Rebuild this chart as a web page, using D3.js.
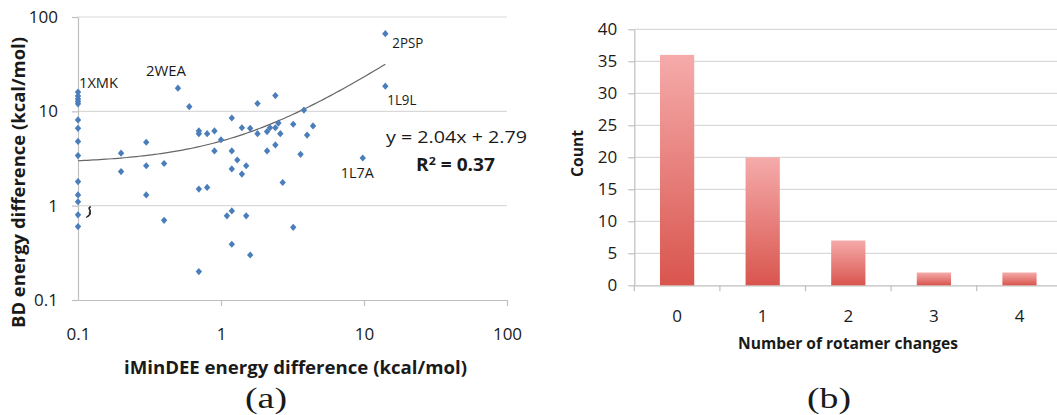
<!DOCTYPE html>
<html>
<head>
<meta charset="utf-8">
<script src="https://cdn.jsdelivr.net/npm/d3@7"></script>
<style>
  body { margin: 0; background: #fff; }
  svg { display: block; font-family: "Open Sans", sans-serif; }
</style>
</head>
<body>
<div id="chart"></div>
<script>
// (a) scatter: iMinDEE vs BD energy difference
const iMinDEE = [0.1, 0.1, 0.1, 0.1, 0.1, 0.1, 0.1, 0.1, 0.1, 0.1, 0.1, 0.1, 0.1, 0.1,
    0.2, 0.2, 0.3, 0.3, 0.3, 0.4, 0.4, 0.5, 0.6, 0.7, 0.7, 0.7, 0.7, 0.8, 0.8, 0.9, 0.9,
    1.0, 1.1, 1.19, 1.19, 1.19, 1.19, 1.19, 1.3, 1.4, 1.4, 1.5, 1.5, 1.6, 1.6, 1.8, 1.8,
    2.1, 2.1, 2.2, 2.4, 2.4, 2.4, 2.52, 2.6, 2.7, 3.2, 3.2, 3.6, 3.8, 4.0, 4.4, 9.8, 14.1, 14.1];
const bdEnergy = [16, 14.5, 13.5, 12.7, 12, 8.1, 6.6, 4.8, 3.4, 1.8, 1.3, 1.1, 0.8, 0.6,
    3.6, 2.3, 4.7, 2.65, 1.3, 2.8, 0.7, 17.6, 11.2, 6.2, 5.8, 1.5, 0.2, 5.8, 1.56, 6.2, 3.8,
    5.0, 0.78, 8.5, 3.8, 2.45, 0.88, 0.39, 3.05, 6.7, 2.16, 2.65, 0.78, 6.6, 0.3, 12.1, 5.8,
    6.1, 3.8, 6.7, 14.7, 6.7, 4.4, 7.5, 5.8, 1.76, 7.3, 0.59, 3.5, 10.3, 5.6, 7.0, 3.2, 66.6, 18.5];
const logTicks = [0.1, 1, 10, 100];
const proteinLabels = [
    {name: "1XMK", x: 0.1, y: 16},
    {name: "2WEA", x: 0.5, y: 17.6},
    {name: "2PSP", x: 14.1, y: 66.6},
    {name: "1L9L", x: 14.1, y: 18.5},
    {name: "1L7A", x: 9.8, y: 3.2}
];
const trendSlope = 2.04, trendIntercept = 2.79, trendR2 = 0.37;
const trendRange = [0.1, 14.1];

// (b) histogram of rotamer changes
const rotamerChanges = ["0", "1", "2", "3", "4"];
const rotamerCounts = [36, 20, 7, 2, 2];
const countTicks = [0, 5, 10, 15, 20, 25, 30, 35, 40];

const W = 1057, H = 415;
const gridColor = "#d9d9d9", axisColor = "#bfbfbf", textColor = "#1a1a1a";

const svg = d3.select("#chart").append("svg")
    .attr("width", W).attr("height", H);

const defs = svg.append("defs");
const grad = defs.append("linearGradient")
    .attr("id", "barGrad")
    .attr("x1", 0).attr("y1", 0).attr("x2", 0).attr("y2", 1);
grad.append("stop").attr("offset", "0%").attr("stop-color", "#f5abaa");
grad.append("stop").attr("offset", "100%").attr("stop-color", "#d9554e");

// text helper, stretched to the width measured in the figure
function label(g, txt, x, y, size, opts = {}) {
    const t = g.append("text")
        .attr("x", x).attr("y", y)
        .attr("font-size", size)
        .attr("fill", opts.fill || textColor)
        .attr("text-anchor", opts.anchor || "start")
        .text(txt);
    if (opts.bold) t.attr("font-weight", "bold");
    if (opts.family) t.attr("font-family", opts.family);
    if (opts.len) t.attr("textLength", opts.len).attr("lengthAdjust", "spacingAndGlyphs");
    if (opts.transform) t.attr("transform", opts.transform);
    return t;
}

// ---------- (a) ----------
const xA = d3.scaleLog().domain([0.1, 100]).range([78, 507]);
const yA = d3.scaleLog().domain([0.1, 100]).range([300, 17]);
const gA = svg.append("g");

// horizontal gridlines
gA.selectAll(".hgrid").data(logTicks.slice(1)).enter()
    .append("line")
    .attr("x1", xA(0.1)).attr("x2", xA(100))
    .attr("y1", d => yA(d)).attr("y2", d => yA(d))
    .attr("stroke", gridColor).attr("stroke-width", 1.2);

const yAxisA = gA.append("g")
    .attr("transform", `translate(${xA(0.1)},0)`)
    .call(d3.axisLeft(yA).tickValues(logTicks).tickFormat(d => d3.format("~g")(d))
        .tickSizeInner(6).tickSizeOuter(0).tickPadding(14));
const xAxisA = gA.append("g")
    .attr("transform", `translate(0,${yA(0.1)})`)
    .call(d3.axisBottom(xA).tickValues(logTicks).tickFormat(d => d3.format("~g")(d))
        .tickSizeInner(6).tickSizeOuter(0).tickPadding(22));
[yAxisA, xAxisA].forEach(ax => {
    ax.select(".domain").attr("stroke", axisColor).attr("stroke-width", 1.2);
    ax.selectAll(".tick line").attr("stroke", axisColor).attr("stroke-width", 1.2);
    ax.selectAll(".tick text").attr("font-size", 17).attr("fill", textColor)
        .attr("font-family", "Open Sans");
});
xAxisA.selectAll(".tick").filter(d => d === 0.1).select("line").remove();

// trend line y = a*x + b on log axes
const trendXs = d3.range(0, 101).map(i => trendRange[0] * Math.pow(trendRange[1] / trendRange[0], i / 100));
gA.append("path")
    .datum(trendXs)
    .attr("fill", "none")
    .attr("stroke", "#666")
    .attr("stroke-width", 1.2)
    .attr("d", d3.line().x(d => xA(d)).y(d => yA(trendSlope * d + trendIntercept)));

// points
const pts = iMinDEE.map((x, i) => ({x: x, y: bdEnergy[i]}));
gA.selectAll(".pt").data(pts).enter()
    .append("path")
    .attr("class", "pt")
    .attr("transform", d => `translate(${xA(d.x)},${yA(d.y)})`)
    .attr("d", "M0,-3.6L3.2,0L0,3.6L-3.2,0Z")
    .attr("fill", "#4a7ebb");

// squiggle marker near x=0.1, y=1
const sx = xA(0.1), sy = yA(1);
gA.append("path")
    .attr("d", `M${sx + 13},${sy + 1} C${sx + 8},${sy + 2} ${sx + 15},${sy + 6} ${sx + 11},${sy + 7} C${sx + 15},${sy + 8} ${sx + 8},${sy + 11} ${sx + 9},${sy + 12}`)
    .attr("fill", "none").attr("stroke", "#222").attr("stroke-width", 1.6);

// protein labels
const labelOffsets = {
    "1XMK": [1, -4, 39], "2WEA": [-32, -12, 40], "2PSP": [7, 14, 31],
    "1L9L": [2, 19, 29], "1L7A": [-22, 20, 33]
};
proteinLabels.forEach(p => {
    const o = labelOffsets[p.name];
    label(gA, p.name, xA(p.x) + o[0], yA(p.y) + o[1], 14, {len: o[2]});
});

// regression text
label(gA, `y = ${trendSlope}x + ${trendIntercept}`, 386, 143, 17, {len: 141});
const r2 = label(gA, "", 416, 171, 17, {bold: true, len: 79});
r2.text(null);
r2.append("tspan").text("R");
r2.append("tspan").attr("font-size", 11).attr("dy", -6).text("2");
r2.append("tspan").attr("dy", 6).text(` = ${trendR2}`);

// axis titles
label(gA, "iMinDEE energy difference (kcal/mol)", 124, 374, 18, {bold: true, len: 343});
label(gA, "BD energy difference (kcal/mol)", 0, 0, 18,
    {bold: true, len: 291, anchor: "middle", transform: "translate(25,182.5) rotate(-90)"});
label(gA, "(a)", 266, 408, 30, {anchor: "middle", family: "Liberation Serif", len: 42});

// ---------- (b) ----------
const xB = d3.scaleBand().domain(rotamerChanges).range([634.3, 1062.3])
    .paddingInner(0.6).paddingOuter(0.3);
const yB = d3.scaleLinear().domain([0, 40]).range([285.3, 29.3]);
const gB = svg.append("g");

gB.selectAll(".hgrid").data(countTicks.slice(1)).enter()
    .append("line")
    .attr("x1", xB.range()[0]).attr("x2", xB.range()[1])
    .attr("y1", d => yB(d)).attr("y2", d => yB(d))
    .attr("stroke", gridColor).attr("stroke-width", 1.2);

const yAxisB = gB.append("g")
    .attr("transform", `translate(${xB.range()[0]},0)`)
    .call(d3.axisLeft(yB).tickValues(countTicks).tickSizeInner(6).tickSizeOuter(0).tickPadding(11));
yAxisB.select(".domain").attr("stroke", axisColor).attr("stroke-width", 1.2);
yAxisB.selectAll(".tick line").attr("stroke", axisColor).attr("stroke-width", 1.2);
yAxisB.selectAll(".tick text").attr("font-size", 17).attr("fill", textColor)
    .attr("font-family", "Open Sans");

const xAxisB = gB.append("g")
    .attr("transform", `translate(0,${yB(0)})`)
    .call(d3.axisBottom(xB).tickSize(0).tickPadding(25));
xAxisB.select(".domain").attr("stroke", axisColor).attr("stroke-width", 1.2);
xAxisB.selectAll(".tick text").attr("font-size", 17).attr("fill", textColor)
    .attr("font-family", "Open Sans");
// category boundary ticks
const step = xB.step();
gB.selectAll(".btick").data(rotamerChanges).enter()
    .append("line")
    .attr("x1", d => xB(d) - step * 0.3).attr("x2", d => xB(d) - step * 0.3)
    .attr("y1", yB(0)).attr("y2", yB(0) + 6)
    .attr("stroke", axisColor).attr("stroke-width", 1.2);

gB.selectAll(".bar").data(rotamerCounts).enter()
    .append("rect")
    .attr("x", (d, i) => xB(rotamerChanges[i]))
    .attr("y", d => yB(d))
    .attr("width", xB.bandwidth())
    .attr("height", d => yB(0) - yB(d))
    .attr("fill", "url(#barGrad)");

label(gB, "Number of rotamer changes", 738, 349, 16, {bold: true, len: 220});
label(gB, "Count", 0, 0, 16,
    {bold: true, len: 47, anchor: "middle", transform: "translate(583,153.5) rotate(-90)"});
label(gB, "(b)", 829, 408, 30, {anchor: "middle", family: "Liberation Serif", len: 44});
</script>
</body>
</html>
